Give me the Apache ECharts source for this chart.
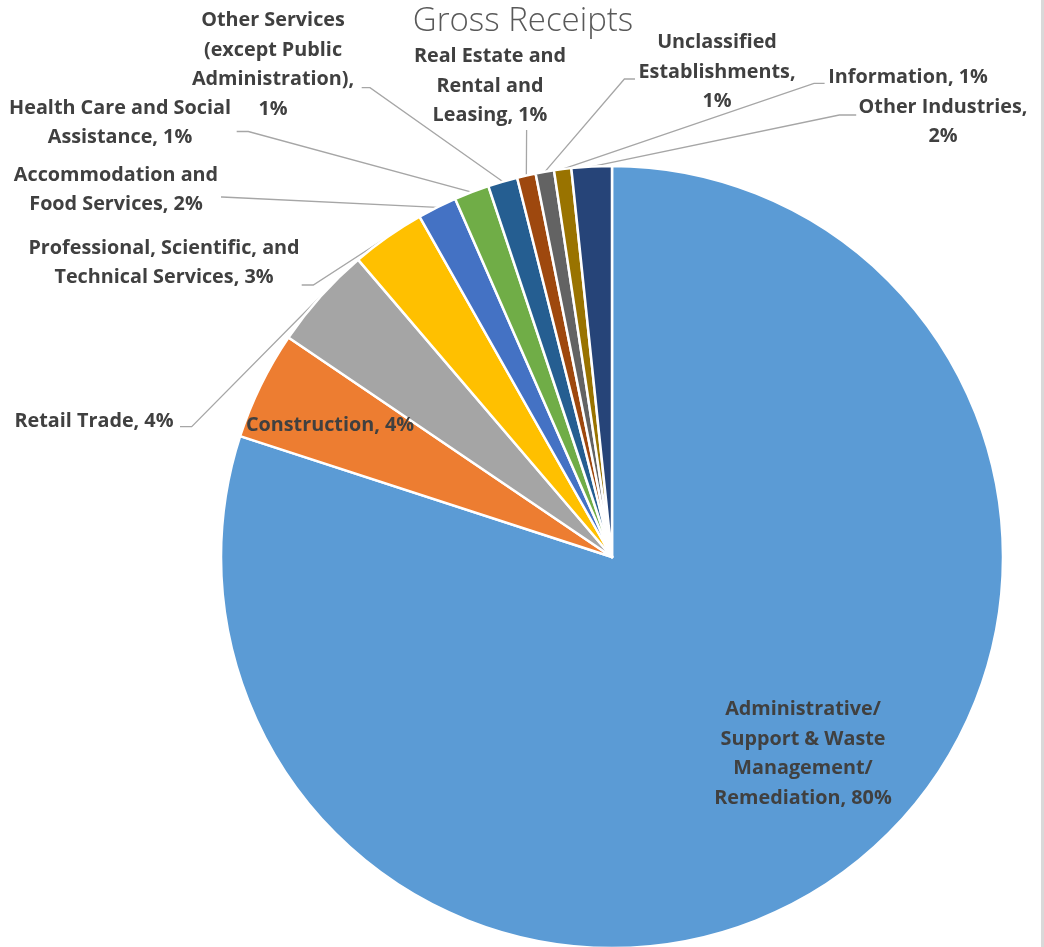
<!DOCTYPE html>
<html>
<head>
<meta charset="utf-8">
<script src="https://cdn.jsdelivr.net/npm/echarts@6/dist/echarts.min.js"></script>
<style>
html,body{margin:0;padding:0;background:#fff;}
#chart{width:1044px;height:947px;}
</style>
</head>
<body>
<div id="chart"></div>
<script>
// ---- data ----
const categories = [
  'Administrative/Support & Waste Management/Remediation',
  'Construction',
  'Retail Trade',
  'Professional, Scientific, and Technical Services',
  'Accommodation and Food Services',
  'Health Care and Social Assistance',
  'Other Services (except Public Administration)',
  'Real Estate and Rental and Leasing',
  'Unclassified Establishments',
  'Information',
  'Other Industries'
];
const shares = [80.0, 4.49, 4.26, 3.06, 1.62, 1.45, 1.22, 0.77, 0.76, 0.71, 1.66];
// label texts as wrapped in the original ({p} = percentage)
const labelTexts = [
  'Administrative/\nSupport & Waste\nManagement/\nRemediation, {p}%',
  'Construction, {p}%',
  'Retail Trade, {p}%',
  'Professional, Scientific, and\nTechnical Services, {p}%',
  'Accommodation and\nFood Services, {p}%',
  'Health Care and Social\nAssistance, {p}%',
  'Other Services\n(except Public\nAdministration),\n{p}%',
  'Real Estate and\nRental and\nLeasing, {p}%',
  'Unclassified\nEstablishments,\n{p}%',
  'Information, {p}%',
  'Other Industries,\n{p}%'
];
const colors = ['#5B9BD5','#ED7D31','#A5A5A5','#FFC000','#4472C4','#70AD47','#255E91','#9E480E','#636363','#997300','#264478'];

// ---- label placement (layout, not data) ----
const labelCenters = [
  [803, 754], [330, 425], [94, 421], [164, 263], [116, 190], [120, 123],
  [273, 65], [490, 86], [717, 72], [908, 77], [943, 122]
];
const leaderTail = [
  null, null,
  [[191.7, 426.7], [180, 426.7]],
  [[313.3, 285], [301.7, 285]],
  [[222, 197], [221, 197]],
  [[248.3, 131.5], [236.7, 131.5]],
  [[370, 87.7], [361.7, 87.7]],
  [[526.6, 131], [526.6, 130]],
  [[624.4, 79], [635, 79]],
  [[814, 83.3], [824.6, 83.3]],
  [[839.3, 115], [856.2, 115]]
];

const chart = echarts.init(document.getElementById('chart'), null, {renderer: 'canvas'});
const data = categories.map((c, i) => ({
  name: c,
  value: shares[i],
  labelLine: { show: !!leaderTail[i] }
}));

chart.setOption({
  animation: false,
  color: colors,
  title: {
    text: 'Gross Receipts',
    left: 518,
    top: 0,
    textAlign: 'center',
    textStyle: { fontFamily: 'Open Sans', fontWeight: 300, fontSize: 33, color: '#595959' }
  },
  graphic: [{
    type: 'rect', right: 0, top: 0,
    shape: { width: 3, height: 947 },
    style: { fill: '#d9d9d9' }
  }],
  series: [{
    type: 'pie',
    center: [612, 557],
    radius: 391,
    startAngle: 90,
    clockwise: true,
    avoidLabelOverlap: false,
    percentPrecision: 0,
    itemStyle: { borderColor: '#ffffff', borderWidth: 2.5 },
    label: {
      show: true,
      position: 'outside',
      fontFamily: 'Open Sans',
      fontWeight: 'bold',
      fontSize: 19.8,
      lineHeight: 29.5,
      color: '#404040',
      align: 'center',
      formatter: p => labelTexts[p.dataIndex].replace('{p}', p.percent)
    },
    labelLine: {
      show: true,
      length: 10, length2: 10,
      lineStyle: { color: '#a6a6a6', width: 1.3 }
    },
    labelLayout: function (params) {
      const i = params.dataIndex;
      const res = {
        x: labelCenters[i][0],
        y: labelCenters[i][1],
        align: 'center',
        verticalAlign: 'middle'
      };
      if (leaderTail[i] && params.labelLinePoints) {
        const a = params.labelLinePoints[0];
        res.labelLinePoints = [[a[0], a[1]], leaderTail[i][0], leaderTail[i][1]];
      }
      return res;
    },
    emphasis: { disabled: true },
    data: data
  }]
});
</script>
</body>
</html>
